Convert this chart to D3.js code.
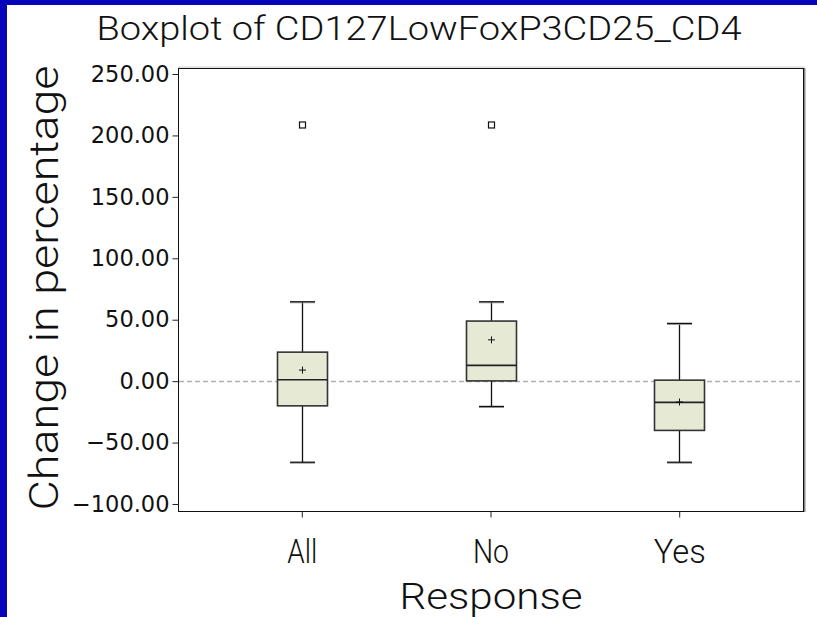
<!DOCTYPE html>
<html>
<head>
<meta charset="utf-8">
<script src="https://cdn.jsdelivr.net/npm/d3@7"></script>
<style>
    body { margin: 0; background: #fff; }
    svg { display: block; }
</style>
</head>
<body>
<div id="draw_here"></div>
<script type="text/javascript">
    // Data
    categories = ["All", "No", "Yes"]
    q1 = [-20.1, 0.2, -40.1]
    medians = [1.1, 12.8, -17.3]
    q3 = [23.6, 48.9, 0.8]
    whisker_lo = [-66.0, -20.6, -66.0]
    whisker_hi = [64.6, 64.6, 47.0]
    means = [9.0, 33.6, -17.0]
    outliers = [[208.5], [208.5], []]
    y_ticks = [-100, -50, 0, 50, 100, 150, 200, 250]

    canvas = ({width: 817, height: 617})
    frame = ({left: 178, right: 803, top: 68, bottom: 511})
    box_fill = "#e6ead5"
    blue = "#0606b8"
    thin_font = "Roboto, Liberation Sans, Arial, sans-serif"

    var svg = d3.select("div#draw_here").append("svg")
        .attr("width", canvas.width)
        .attr("height", canvas.height)

    // blue border on top & left
    svg.append("rect").attr("x", 0).attr("y", 0).attr("width", canvas.width).attr("height", 5).attr("fill", blue)
    svg.append("rect").attr("x", 0).attr("y", 0).attr("width", 7).attr("height", canvas.height).attr("fill", blue)

    x = d3.scalePoint()
        .domain(categories)
        .range([frame.left, frame.right])
        .padding(0.656)

    y = d3.scaleLinear()
        .domain([-100, 250])
        .range([504, 74])

    // frame + shadow
    svg.append("line")
        .attr("x1", frame.right + 1.5).attr("x2", frame.right + 1.5)
        .attr("y1", frame.top).attr("y2", frame.bottom + 1)
        .attr("stroke", "#888").attr("stroke-width", 2)
    svg.append("line")
        .attr("x1", frame.left).attr("x2", frame.right + 2)
        .attr("y1", frame.top - 1).attr("y2", frame.top - 1)
        .attr("stroke", "#ccc").attr("stroke-width", 1)
    svg.append("rect")
        .attr("x", frame.left + 0.5).attr("y", frame.top + 0.5)
        .attr("width", frame.right - frame.left).attr("height", frame.bottom - frame.top)
        .attr("fill", "none").attr("stroke", "#111").attr("stroke-width", 1)

    // reference line at 0
    svg.append("line")
        .attr("x1", frame.left + 1).attr("x2", frame.right)
        .attr("y1", Math.round(y(0)) + 0.5).attr("y2", Math.round(y(0)) + 0.5)
        .attr("stroke", "#b0b0b0").attr("stroke-width", 1.5)
        .attr("stroke-dasharray", "5,3")

    // axes
    yAxis = g => g
        .attr("transform", `translate(${frame.left + 0.5},0)`)
        .call(d3.axisLeft(y).tickValues(y_ticks).tickFormat(d3.format(".2f")).tickSize(6).tickPadding(3))
        .call(g => g.select(".domain").remove())
        .call(g => g.selectAll("line").attr("stroke", "#222"))
        .call(g => g.selectAll("text")
            .attr("font-family", "DejaVu Sans")
            .attr("font-size", 22.5)
            .attr("fill", "#111"))

    xAxis = g => g
        .attr("transform", `translate(0,${frame.bottom + 0.5})`)
        .call(d3.axisBottom(x).tickSize(6).tickPadding(22))
        .call(g => g.select(".domain").remove())
        .call(g => g.selectAll("line").attr("stroke", "#222"))
        .call(g => g.selectAll("text")
            .attr("font-family", thin_font)
            .attr("font-weight", 300)
            .attr("font-size", 33)
            .attr("fill", "#111")
            .attr("textLength", d => ({All: 30, No: 36, Yes: 52})[d])
            .attr("lengthAdjust", "spacingAndGlyphs"))

    svg.append("g").call(yAxis)
    svg.append("g").call(xAxis)

    // boxes
    box_w = 50
    cap_w = 25
    var boxes = svg.append("g")
    categories.forEach(function(c, i) {
        cx = Math.round(x(c)) + 0.5
        g = boxes.append("g")

        // whiskers
        g.append("line")
            .attr("x1", cx).attr("x2", cx)
            .attr("y1", y(whisker_hi[i])).attr("y2", y(q3[i]))
            .attr("stroke", "#111").attr("stroke-width", 1.3)
        g.append("line")
            .attr("x1", cx).attr("x2", cx)
            .attr("y1", y(q1[i])).attr("y2", y(whisker_lo[i]))
            .attr("stroke", "#111").attr("stroke-width", 1.3)
        // caps
        ;[whisker_hi[i], whisker_lo[i]].forEach(function(v) {
            g.append("line")
                .attr("x1", cx - cap_w / 2).attr("x2", cx + cap_w / 2)
                .attr("y1", y(v) + 1).attr("y2", y(v) + 1)
                .attr("stroke", "#999").attr("stroke-width", 1)
            g.append("line")
                .attr("x1", cx - cap_w / 2).attr("x2", cx + cap_w / 2)
                .attr("y1", y(v)).attr("y2", y(v))
                .attr("stroke", "#111").attr("stroke-width", 1.3)
        })

        // box
        g.append("rect")
            .attr("x", cx - box_w / 2).attr("y", y(q3[i]))
            .attr("width", box_w).attr("height", y(q1[i]) - y(q3[i]))
            .attr("fill", box_fill)
            .attr("stroke", "#333").attr("stroke-width", 1.6)

        // median
        g.append("line")
            .attr("x1", cx - box_w / 2).attr("x2", cx + box_w / 2)
            .attr("y1", y(medians[i])).attr("y2", y(medians[i]))
            .attr("stroke", "#222").attr("stroke-width", 1.6)

        // mean marker
        my = y(means[i])
        g.append("path")
            .attr("d", `M${cx - 3.5},${my}H${cx + 3.5}M${cx},${my - 3.5}V${my + 3.5}`)
            .attr("stroke", "#111").attr("stroke-width", 1)

        // outliers
        outliers[i].forEach(function(v) {
            g.append("rect")
                .attr("x", cx - 3).attr("y", y(v) - 3)
                .attr("width", 6).attr("height", 6)
                .attr("fill", "#fff")
                .attr("stroke", "#111").attr("stroke-width", 1.2)
        })
    })

    // titles
    svg.append("text")
        .attr("x", 419).attr("y", 40)
        .attr("text-anchor", "middle")
        .attr("font-family", thin_font)
        .attr("font-weight", 300)
        .attr("font-size", 34)
        .attr("fill", "#111")
        .attr("textLength", 645)
        .attr("lengthAdjust", "spacingAndGlyphs")
        .text("Boxplot of CD127LowFoxP3CD25_CD4")

    svg.append("text")
        .attr("x", 491).attr("y", 609)
        .attr("text-anchor", "middle")
        .attr("font-family", thin_font)
        .attr("font-weight", 300)
        .attr("font-size", 36)
        .attr("fill", "#111")
        .attr("textLength", 183)
        .attr("lengthAdjust", "spacingAndGlyphs")
        .text("Response")

    svg.append("text")
        .attr("transform", `translate(58,288) rotate(-90)`)
        .attr("text-anchor", "middle")
        .attr("font-family", thin_font)
        .attr("font-weight", 300)
        .attr("font-size", 40)
        .attr("fill", "#111")
        .attr("textLength", 445)
        .attr("lengthAdjust", "spacingAndGlyphs")
        .text("Change in percentage")
</script>
</body>
</html>
